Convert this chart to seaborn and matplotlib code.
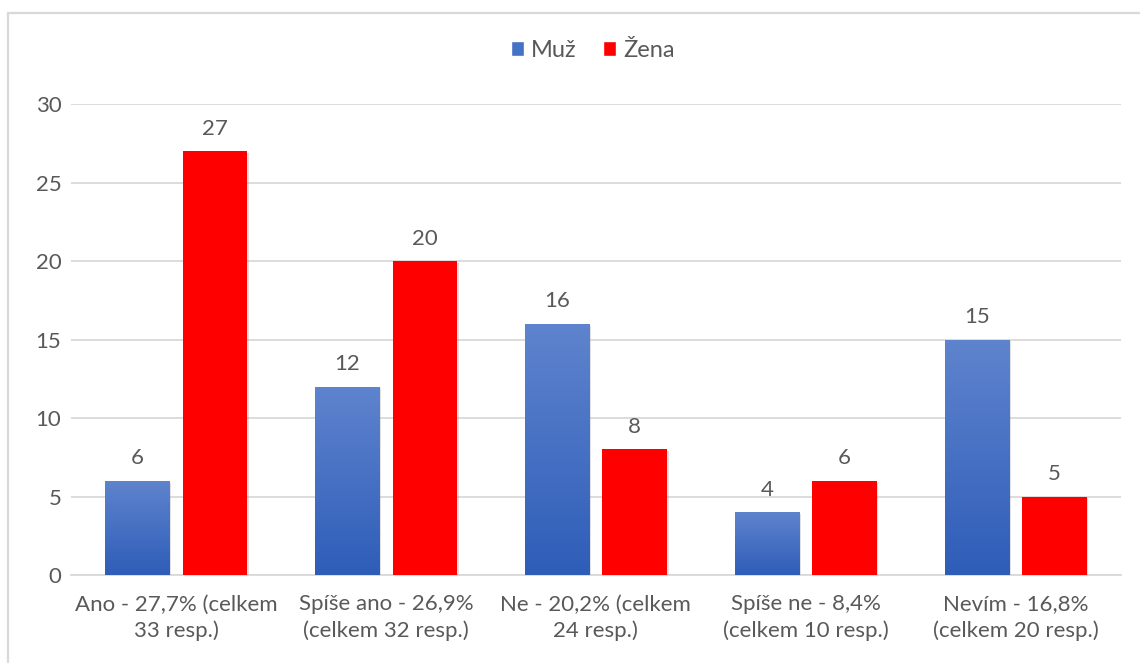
import numpy as np
import pandas as pd
import seaborn as sns
import matplotlib.pyplot as plt
import matplotlib.patches as mpatches
import matplotlib.patheffects as pe
from matplotlib.colors import LinearSegmentedColormap

# Data
categories = ['Ano - 27,7% (celkem\n33 resp.)',
              'Spíše ano - 26,9%\n(celkem 32 resp.)',
              'Ne - 20,2% (celkem\n24 resp.)',
              'Spíše ne - 8,4%\n(celkem 10 resp.)',
              'Nevím - 16,8%\n(celkem 20 resp.)']
muz = [6, 12, 16, 4, 15]
zena = [27, 20, 8, 6, 5]
series = ['Muž', 'Žena']

df = pd.DataFrame({
    'kategorie': categories * 2,
    'pohlavi': [series[0]] * len(categories) + [series[1]] * len(categories),
    'pocet': muz + zena,
})

sns.set_theme(style="white")
plt.rcParams['font.family'] = ['Lato', 'DejaVu Sans']
text_col = '#595959'
grid_col = '#D9D9D9'
fs = 16

fig = plt.figure(figsize=(11.4, 6.63), dpi=100, facecolor='white')
ax = fig.add_axes([0.0623, 0.1327, 0.9207, 0.7103])

sns.barplot(data=df, x='kategorie', y='pocet', hue='pohlavi',
            palette={'Muž': '#4472C4', 'Žena': '#FF0000'}, saturation=1,
            width=0.74, gap=0.17, ax=ax, legend=True, zorder=3)

ax.set_ylim(0, 30)
ax.set_yticks(range(0, 31, 5))
ax.yaxis.grid(True, color=grid_col, lw=1.3, zorder=0)
ax.set_axisbelow(True)
for s in ['top', 'right', 'left']:
    ax.spines[s].set_visible(False)
ax.spines['bottom'].set_color(grid_col)
ax.spines['bottom'].set_linewidth(1.3)
ax.set_xlabel('')
ax.set_ylabel('')
ax.tick_params(axis='both', length=0, labelsize=fs, colors=text_col)
ax.tick_params(axis='y', pad=7)
ax.tick_params(axis='x', pad=14)
for lbl in ax.get_xticklabels():
    lbl.set_linespacing(1.35)

# gradient on the blue bars, soft shadow on all bars
grad_cmap = LinearSegmentedColormap.from_list('blu', ['#2E5DB8', '#5F84CE'])
gradient = np.linspace(0, 1, 256).reshape(-1, 1)
shadow = [pe.SimplePatchShadow(offset=(1.2, -1.2), shadow_rgbFace='#999999', alpha=0.3), pe.Normal()]
for i, container in enumerate(ax.containers):
    for bar in container:
        bar.set_linewidth(0)
        bar.set_path_effects(shadow)
        if i == 0:
            x0, y0 = bar.get_x(), bar.get_y()
            w, h = bar.get_width(), bar.get_height()
            im = ax.imshow(gradient, cmap=grad_cmap, origin='lower', aspect='auto',
                           extent=[x0, x0 + w, y0, y0 + h], zorder=4)
            im.set_clip_path(bar)
    ax.bar_label(container, fontsize=fs, color=text_col, padding=9)
ax.set_xlim(-0.5, len(categories) - 0.5)

# legend
handles, labels = ax.get_legend_handles_labels()
ax.legend(handles, labels, loc='center', bbox_to_anchor=(0.52, 0.924),
          bbox_transform=fig.transFigure, ncol=2, frameon=False,
          fontsize=17, labelcolor=text_col, handlelength=0.55, handleheight=0.55,
          handletextpad=0.3, columnspacing=1.1)

# chart border
fig.patches.append(mpatches.Rectangle((8 / 1140, -0.05), 1.2, 1 - 13 / 663 + 0.05,
                                      transform=fig.transFigure, fill=False,
                                      edgecolor=grid_col, lw=1.6))

plt.savefig('out.png', dpi=100, facecolor='white')
